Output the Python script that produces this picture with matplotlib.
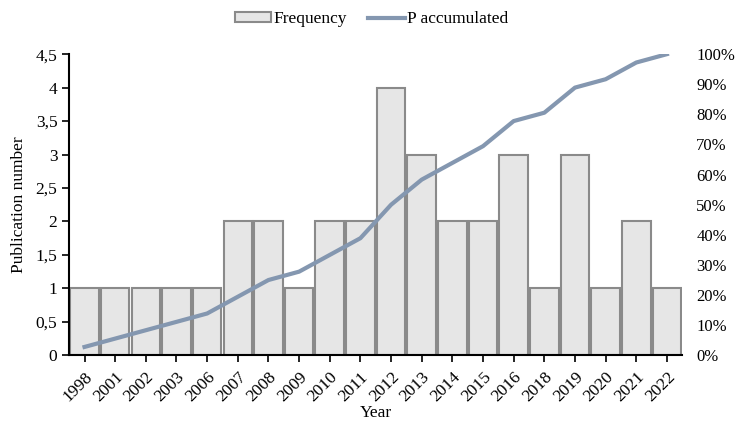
import matplotlib.pyplot as plt
import numpy as np
from matplotlib.ticker import FuncFormatter

plt.rcParams['font.family'] = ['Liberation Serif', 'DejaVu Serif']

years = ["1998", "2001", "2002", "2003", "2006", "2007", "2008", "2009", "2010", "2011",
         "2012", "2013", "2014", "2015", "2016", "2018", "2019", "2020", "2021", "2022"]
frequency = [1, 1, 1, 1, 1, 2, 2, 1, 2, 2, 4, 3, 2, 2, 3, 1, 3, 1, 2, 1]

# accumulated share of publications
accumulated = np.cumsum(frequency) / np.sum(frequency)

x = np.arange(len(years))

fig, ax = plt.subplots(figsize=(7.36, 4.23), dpi=100)
fig.subplots_adjust(left=0.094, right=0.927, top=0.872, bottom=0.16)

bars = ax.bar(x, frequency, width=0.93, color="#e6e6e6", edgecolor="#8a8a8a",
              linewidth=1.5, label="Frequency", zorder=2)

ax2 = ax.twinx()
line, = ax2.plot(x, accumulated, color="#8497b0", linewidth=3, label="P accumulated")

ax.set_xlim(-0.5, len(years) - 0.5)
ax.set_ylim(0, 4.5)
ax.set_yticks(np.arange(0, 4.51, 0.5))
ax.yaxis.set_major_formatter(FuncFormatter(lambda v, p: ("%g" % v).replace(".", ",")))
ax.set_xticks(x)
ax.set_xticklabels(years, rotation=45, ha="right", rotation_mode="anchor")
ax.tick_params(axis="both", labelsize=12.5, direction="out", length=5, width=1.2)
ax.tick_params(axis="x", pad=5)

ax2.set_ylim(0, 1.0)
ax2.set_yticks(np.arange(0, 1.01, 0.1))
ax2.yaxis.set_major_formatter(FuncFormatter(lambda v, p: "%d%%" % round(v * 100)))
ax2.tick_params(axis="y", labelsize=12, length=0, pad=10)

for a in (ax, ax2):
    a.spines["top"].set_visible(False)
    a.spines["right"].set_visible(False)
ax2.spines["left"].set_visible(False)
ax2.spines["bottom"].set_visible(False)
ax.spines["left"].set_linewidth(1.5)
ax.spines["bottom"].set_linewidth(1.5)

ax.set_xlabel("Year", fontsize=12.5, labelpad=0)
ax.set_ylabel("Publication number", fontsize=12.5, labelpad=6)

fig.legend([bars, line], ["Frequency", "P accumulated"], loc="upper center",
           bbox_to_anchor=(0.505, 1.01), ncol=2, frameon=False, fontsize=12.5,
           handlelength=2.1, handleheight=0.5, columnspacing=1.2, handletextpad=0.15)

plt.savefig("out.png", dpi=100)
